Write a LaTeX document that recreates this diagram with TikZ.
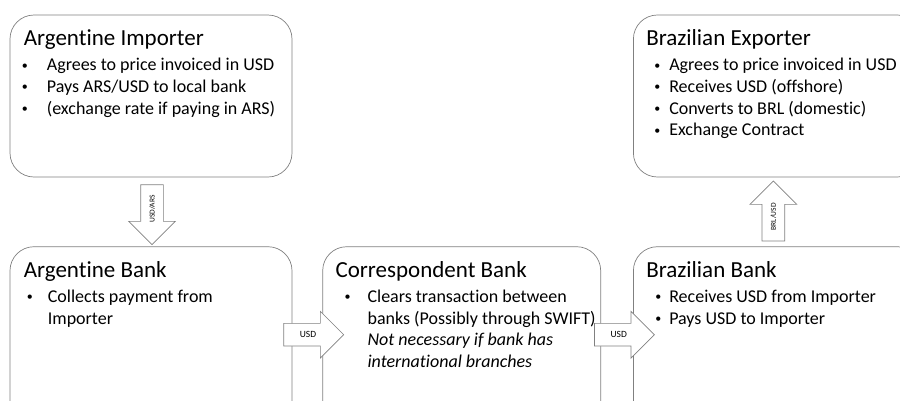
\documentclass[tikz,border=0pt]{standalone}
\usepackage{fontspec}
\setmainfont{Carlito}[Ligatures=NoCommon]
\usetikzlibrary{shapes.arrows,positioning}

% small round bullet for the lists
\newcommand{\dotmark}{\raisebox{1.6pt}{\fontsize{12}{12}\selectfont\textbullet}}

\tikzset{
  card/.style={draw=black!50, line width=0.7pt, rounded corners=24pt,
    minimum width=282pt, minimum height=162pt, inner sep=0pt},
  head/.style={font=\fontsize{23}{27}\selectfont, inner sep=0pt, anchor=base west},
  items/.style={font=\fontsize{18}{21.7}\selectfont, inner sep=0pt, anchor=base west},
  flow/.style={single arrow, draw=black!50, fill=white, line width=0.7pt,
    single arrow head extend=12pt, minimum height=60pt, inner xsep=2pt,
    inner ysep=7.5pt, text height=6pt, text depth=1pt,
    font=\fontsize{9.5}{10}\selectfont, anchor=tail},
  vflow/.style={flow, rotate=90, font=\fontsize{7.5}{8}\selectfont}
}

\begin{document}
\begin{tikzpicture}[x=1pt,y=-1pt]
\useasboundingbox (0,0) rectangle (900,400);

% boxes
\node[card] (Imp) at (151,96) {};
\node[card, minimum height=184pt] (AB) [below=69pt of Imp] {};
\node[card, minimum height=184pt, minimum width=278pt] (CB) [right=30pt of AB] {};
\node[card, minimum height=184pt, minimum width=288pt] (BB) [right=32pt of CB] {};
\node[card, minimum width=288pt] (Exp) [above=69pt of BB] {};

% texts
\node[head] (Imp-t) at ([shift={(14,31)}]Imp.north west) {Argentine Importer};
\node[items] (Imp-l) at ([shift={(12,56)}]Imp.north west) {%
  \begin{tabular}[t]{@{}p{25pt}@{}l@{}}
  \dotmark & Agrees to price invoiced in USD\\
  \dotmark & Pays ARS/USD to local bank\\
  \dotmark & (exchange rate if paying in ARS)
  \end{tabular}};

\node[head] (Exp-t) at ([shift={(13,31)}]Exp.north west) {Brazilian Exporter};
\node[items] (Exp-l) at ([shift={(21,56)}]Exp.north west) {%
  \begin{tabular}[t]{@{}p{15pt}@{}l@{}}
  \dotmark & Agrees to price invoiced in USD\\
  \dotmark & Receives USD (offshore)\\
  \dotmark & Converts to BRL (domestic)\\
  \dotmark & Exchange Contract
  \end{tabular}};

\node[head] (AB-t) at ([shift={(14,31)}]AB.north west) {Argentine Bank};
\node[items] (AB-l) at ([shift={(17,56)}]AB.north west) {%
  \begin{tabular}[t]{@{}p{21pt}@{}l@{}}
  \dotmark & Collects payment from\\
  & Importer
  \end{tabular}};

\node[head] (CB-t) at ([shift={(13,31)}]CB.north west) {Correspondent Bank};
\node[items] (CB-l) at ([shift={(22,56)}]CB.north west) {%
  \begin{tabular}[t]{@{}p{23pt}@{}l@{}}
  \dotmark & Clears transaction between\\
  & banks (Possibly through SWIFT)\\
  & \textit{Not necessary if bank has}\\
  & \textit{international branches}
  \end{tabular}};

\node[head] (BB-t) at ([shift={(13,31)}]BB.north west) {Brazilian Bank};
\node[items] (BB-l) at ([shift={(22,56)}]BB.north west) {%
  \begin{tabular}[t]{@{}p{14pt}@{}l@{}}
  \dotmark & Receives USD from Importer\\
  \dotmark & Pays USD to Importer
  \end{tabular}};

% money flows
\node[vflow, shape border rotate=180] (UA) at ([shift={(1,7)}]Imp.south) {USD/ARS};
\node[flow] (U1) at ([shift={(-9,-4)}]AB.east) {USD};
\node[flow] (U2) at ([shift={(-7,-4)}]CB.east) {USD};
\node[vflow] (BU) at ([shift={(-4,-5)}]BB.north) {BRL/USD};
\end{tikzpicture}
\end{document}
